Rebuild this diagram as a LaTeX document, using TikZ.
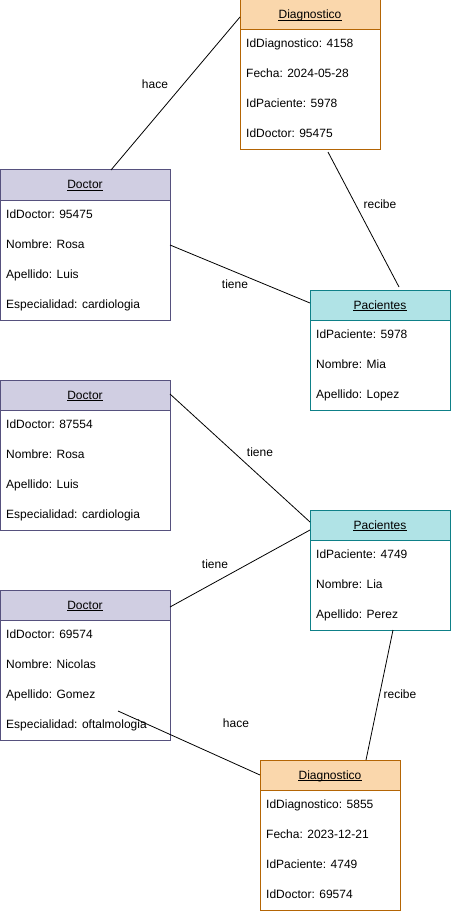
\documentclass[tikz,border=0pt]{standalone}
\usepackage{fontspec}
\setmainfont{Liberation Sans}
\usetikzlibrary{calc}

\definecolor{docfill}{HTML}{D0CEE2}
\definecolor{docline}{HTML}{56517E}
\definecolor{dgfill}{HTML}{FAD7AC}
\definecolor{dgline}{HTML}{B46504}
\definecolor{pacfill}{HTML}{B0E3E6}
\definecolor{pacline}{HTML}{0E8088}

\tikzset{
  entbox/.style={rectangle, line width=1pt, inner sep=0pt, outer sep=0pt, anchor=north west, minimum width=#1},
  doc/.style={draw=docline},
  dg/.style={draw=dgline},
  pac/.style={draw=pacline},
  hdr/.style={minimum height=30pt},
  ttl/.style={inner sep=0pt, anchor=base, font=\fontsize{12}{14}\selectfont},
  row/.style={inner sep=0pt, anchor=base west, font=\fontsize{12}{14}\selectfont},
  rel/.style={inner sep=0pt, font=\fontsize{12}{14}\selectfont},
  link/.style={draw=black, line width=0.8pt},
  uline/.style={line width=0.8pt}
}

\begin{document}
\begin{tikzpicture}[x=1pt, y=-1pt]
\useasboundingbox (0,0) rectangle (451,912);
\fill[white] (0,0) rectangle (451,912);

% ---------- Diagnostico 4158 ----------
\node[entbox=140pt, dg, fill=white, minimum height=150pt] (dgA) at (240,0) {};
\node[entbox=140pt, dg, fill=dgfill, hdr] (dgAh) at (240,0) {};
\node[ttl] (dgAt) at (310,19) {Diagnostico};
\draw[uline] ([yshift=-1.8pt]dgAt.base west) -- ([yshift=-1.8pt]dgAt.base east);
\node[row] (dgA1) at (246,48) {IdDiagnostico: 4158};
\node[row] (dgA2) at (246,78) {Fecha: 2024-05-28};
\node[row] (dgA3) at (246,108) {IdPaciente: 5978};
\node[row] (dgA4) at (246,138) {IdDoctor: 95475};

% ---------- Doctor 95475 ----------
\node[entbox=170pt, doc, fill=white, minimum height=150pt] (docA) at (0,170) {};
\node[entbox=170pt, doc, fill=docfill, hdr] (docAh) at (0,170) {};
\node[ttl] (docAt) at (85,189) {Doctor};
\draw[uline] ([yshift=-1.8pt]docAt.base west) -- ([yshift=-1.8pt]docAt.base east);
\node[row] (docA1) at (6,218) {IdDoctor: 95475};
\node[row] (docA2) at (6,248) {Nombre: Rosa};
\node[row] (docA3) at (6,278) {Apellido: Luis};
\node[row] (docA4) at (6,308) {Especialidad: cardiologia};

% ---------- Pacientes 5978 ----------
\node[entbox=140pt, pac, fill=white, minimum height=120pt] (pacA) at (310,290) {};
\node[entbox=140pt, pac, fill=pacfill, hdr] (pacAh) at (310,290) {};
\node[ttl] (pacAt) at (380,309) {Pacientes};
\draw[uline] ([yshift=-1.8pt]pacAt.base west) -- ([yshift=-1.8pt]pacAt.base east);
\node[row] (pacA1) at (316,338) {IdPaciente: 5978};
\node[row] (pacA2) at (316,368) {Nombre: Mia};
\node[row] (pacA3) at (316,398) {Apellido: Lopez};

% ---------- Doctor 87554 ----------
\node[entbox=170pt, doc, fill=white, minimum height=150pt] (docB) at (0,380) {};
\node[entbox=170pt, doc, fill=docfill, hdr] (docBh) at (0,380) {};
\node[ttl] (docBt) at (85,399) {Doctor};
\draw[uline] ([yshift=-1.8pt]docBt.base west) -- ([yshift=-1.8pt]docBt.base east);
\node[row] (docB1) at (6,428) {IdDoctor: 87554};
\node[row] (docB2) at (6,458) {Nombre: Rosa};
\node[row] (docB3) at (6,488) {Apellido: Luis};
\node[row] (docB4) at (6,518) {Especialidad: cardiologia};

% ---------- Pacientes 4749 ----------
\node[entbox=140pt, pac, fill=white, minimum height=120pt] (pacB) at (310,510) {};
\node[entbox=140pt, pac, fill=pacfill, hdr] (pacBh) at (310,510) {};
\node[ttl] (pacBt) at (380,529) {Pacientes};
\draw[uline] ([yshift=-1.8pt]pacBt.base west) -- ([yshift=-1.8pt]pacBt.base east);
\node[row] (pacB1) at (316,558) {IdPaciente: 4749};
\node[row] (pacB2) at (316,588) {Nombre: Lia};
\node[row] (pacB3) at (316,618) {Apellido: Perez};

% ---------- Doctor 69574 ----------
\node[entbox=170pt, doc, fill=white, minimum height=150pt] (docC) at (0,590) {};
\node[entbox=170pt, doc, fill=docfill, hdr] (docCh) at (0,590) {};
\node[ttl] (docCt) at (85,609) {Doctor};
\draw[uline] ([yshift=-1.8pt]docCt.base west) -- ([yshift=-1.8pt]docCt.base east);
\node[row] (docC1) at (6,638) {IdDoctor: 69574};
\node[row] (docC2) at (6,668) {Nombre: Nicolas};
\node[row] (docC3) at (6,698) {Apellido: Gomez};
\node[row] (docC4) at (6,728) {Especialidad: oftalmologia};

% ---------- Diagnostico 5855 ----------
\node[entbox=140pt, dg, fill=white, minimum height=150pt] (dgB) at (260,760) {};
\node[entbox=140pt, dg, fill=dgfill, hdr] (dgBh) at (260,760) {};
\node[ttl] (dgBt) at (330,779) {Diagnostico};
\draw[uline] ([yshift=-1.8pt]dgBt.base west) -- ([yshift=-1.8pt]dgBt.base east);
\node[row] (dgB1) at (266,808) {IdDiagnostico: 5855};
\node[row] (dgB2) at (266,838) {Fecha: 2023-12-21};
\node[row] (dgB3) at (266,868) {IdPaciente: 4749};
\node[row] (dgB4) at (266,898) {IdDoctor: 69574};

% ---------- relationships ----------
\draw[link] ([xshift=111pt]docA.north west) -- ([yshift=-2pt]dgAh.west);
\draw[link] ([xshift=88pt,yshift=-2pt]dgA.south west) -- ([xshift=89pt,yshift=3pt]pacA.north west);
\draw[link] ([yshift=-75pt]docA.north east) -- ([yshift=-13pt]pacA.north west);
\draw[link] ([yshift=-14pt]docB.north east) -- ([yshift=-12pt]pacB.north west);
\draw[link] ([yshift=-17pt]docC.north east) -- ([yshift=-20pt]pacB.north west);
\draw[link] ([xshift=83pt]pacB.south west) -- ([xshift=106pt]dgB.north west);
\draw[link] ([xshift=118pt,yshift=-121pt]docC.north west) -- ([yshift=-15pt]dgB.north west);

\node[rel] (lbl1) at (155,84) {hace};
\node[rel] (lbl2) at (380,204) {recibe};
\node[rel] (lbl3) at (235,284) {tiene};
\node[rel] (lbl4) at (260,452) {tiene};
\node[rel] (lbl5) at (215,564) {tiene};
\node[rel] (lbl6) at (400,694) {recibe};
\node[rel] (lbl7) at (236,723) {hace};
\end{tikzpicture}
\end{document}
